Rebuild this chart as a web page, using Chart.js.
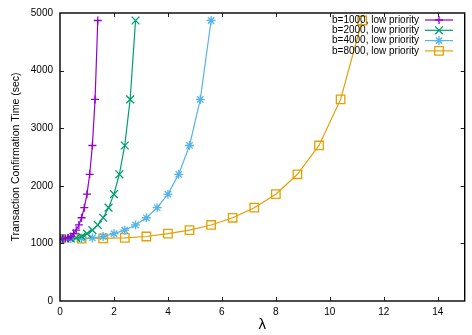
<!DOCTYPE html>
<html>
<head>
<meta charset="utf-8">
<script src="https://cdn.jsdelivr.net/npm/chart.js@4/dist/chart.umd.min.js"></script>
<style>
  html, body { margin: 0; padding: 0; background: #fff; }
  #wrap { width: 472px; height: 335px; position: relative; }
</style>
</head>
<body>
<div id="wrap"><canvas id="c" width="472" height="335"></canvas></div>
<script>
// Arrival rate values (λ) sampled for each block size
const lambdaB1000 = [0, 0.1, 0.2, 0.3, 0.4, 0.5, 0.6, 0.7, 0.8, 0.9, 1.0, 1.1, 1.2, 1.3, 1.4];
const lambdaB2000 = [0, 0.2, 0.4, 0.6, 0.8, 1.0, 1.2, 1.4, 1.6, 1.8, 2.0, 2.2, 2.4, 2.6, 2.8];
const lambdaB4000 = [0, 0.4, 0.8, 1.2, 1.6, 2.0, 2.4, 2.8, 3.2, 3.6, 4.0, 4.4, 4.8, 5.2, 5.6];
const lambdaB8000 = [0, 0.8, 1.6, 2.4, 3.2, 4.0, 4.8, 5.6, 6.4, 7.2, 8.0, 8.8, 9.6, 10.4, 11.2];

// Confirmation time (sec) at each sampled load
const timeB1000 = [1080, 1082, 1086, 1095, 1120, 1170, 1230, 1320, 1445, 1620, 1855, 2200, 2700, 3500, 4870];
const timeB2000 = [1080, 1082, 1086, 1095, 1120, 1170, 1230, 1320, 1445, 1620, 1855, 2200, 2700, 3500, 4870];
const timeB4000 = [1080, 1082, 1086, 1095, 1120, 1170, 1230, 1320, 1445, 1620, 1855, 2200, 2700, 3500, 4870];
const timeB8000 = [1080, 1082, 1086, 1095, 1120, 1170, 1230, 1320, 1445, 1620, 1855, 2200, 2700, 3500, 4870];

const seriesLabels = ['b=1000, low priority', 'b=2000, low priority', 'b=4000, low priority', 'b=8000, low priority'];
const xTitle = 'λ';
const yTitle = 'Transaction Confirmation Time (sec)';
const xTickValues = [2, 4, 6, 8, 10, 12, 14];
const yTickValues = [1000, 2000, 3000, 4000];

const FONT = '"Liberation Sans", Arial, Helvetica, sans-serif';

function pairs(xs, ys) { return xs.map((x, i) => ({ x: x, y: ys[i] })); }

function series(label, xs, ys, color, style, r) {
  return {
    label: label,
    data: pairs(xs, ys),
    showLine: true,
    borderColor: color,
    backgroundColor: 'rgba(0,0,0,0)',
    borderWidth: 1.2,
    pointStyle: style,
    pointRadius: r,
    pointHoverRadius: r,
    pointBorderColor: color,
    pointBackgroundColor: 'rgba(0,0,0,0)',
    pointBorderWidth: 1.3,
    tension: 0
  };
}

// Inward ticks on all four sides, the frame, and the key inside the plot
const framePlugin = {
  id: 'frame',
  afterDatasetsDraw(chart) {
    const { ctx, chartArea: a, scales: { x, y } } = chart;
    ctx.save();
    ctx.strokeStyle = '#222';
    ctx.lineWidth = 1;
    const tl = 4;
    ctx.beginPath();
    xTickValues.forEach(v => {
      const px = Math.round(x.getPixelForValue(v)) + 0.5;
      ctx.moveTo(px, a.bottom); ctx.lineTo(px, a.bottom - tl);
      ctx.moveTo(px, a.top); ctx.lineTo(px, a.top + tl);
    });
    yTickValues.forEach(v => {
      const py = Math.round(y.getPixelForValue(v)) + 0.5;
      ctx.moveTo(a.left, py); ctx.lineTo(a.left + tl, py);
      ctx.moveTo(a.right, py); ctx.lineTo(a.right - tl, py);
    });
    ctx.stroke();

    ctx.strokeStyle = '#000';
    ctx.lineWidth = 1.4;
    ctx.strokeRect(a.left, a.top, a.right - a.left, a.bottom - a.top);

    // key
    ctx.font = '10px ' + FONT;
    ctx.textAlign = 'right';
    ctx.textBaseline = 'middle';
    chart.data.datasets.forEach((ds, i) => {
      const ky = 20 + i * 10.3;
      ctx.fillStyle = '#000';
      ctx.fillText(ds.label, 419, ky);
      ctx.strokeStyle = ds.borderColor;
      ctx.lineWidth = ds.borderWidth;
      ctx.beginPath();
      ctx.moveTo(425, ky); ctx.lineTo(453, ky);
      ctx.stroke();
      ctx.fillStyle = 'rgba(0,0,0,0)';
      ctx.lineWidth = ds.pointBorderWidth;
      Chart.helpers.drawPoint(ctx, {
        pointStyle: ds.pointStyle, radius: ds.pointRadius, rotation: 0, borderWidth: ds.pointBorderWidth
      }, 439, ky);
    });
    ctx.restore();
  }
};

new Chart(document.getElementById('c'), {
  type: 'scatter',
  data: {
    datasets: [
      series(seriesLabels[0], lambdaB1000, timeB1000, '#9400d3', 'cross', 4),
      series(seriesLabels[1], lambdaB2000, timeB2000, '#009e73', 'crossRot', 5.5),
      series(seriesLabels[2], lambdaB4000, timeB4000, '#56b4e9', 'star', 4.5),
      series(seriesLabels[3], lambdaB8000, timeB8000, '#e69f00', 'rect', 6)
    ]
  },
  options: {
    responsive: false,
    animation: false,
    events: [],
    layout: { padding: { left: 0, top: 11, right: 7, bottom: 0 } },
    plugins: { legend: { display: false }, tooltip: { enabled: false } },
    scales: {
      x: {
        type: 'linear',
        min: 0, max: 15,
        grid: { display: false, drawTicks: false },
        border: { display: false },
        ticks: { stepSize: 2, includeBounds: false, padding: 5, color: '#000', font: { family: FONT, size: 10 }, maxRotation: 0,
                 callback: v => String(v) },
        title: { display: true, text: xTitle, color: '#000', font: { family: FONT, size: 15 }, padding: { top: 0, bottom: 1 } },
        afterFit(s) { s.height = 34; }
      },
      y: {
        type: 'linear',
        min: 0, max: 5000,
        grid: { display: false, drawTicks: false },
        border: { display: false },
        ticks: { stepSize: 1000, padding: 7, color: '#000', font: { family: FONT, size: 10 },
                 callback: v => String(v) },
        title: { display: true, text: yTitle, color: '#000', font: { family: FONT, size: 10.5 }, padding: { top: 10, bottom: 0 } },
        afterFit(s) { s.width = 60; }
      }
    }
  },
  plugins: [framePlugin]
});
</script>
</body>
</html>
